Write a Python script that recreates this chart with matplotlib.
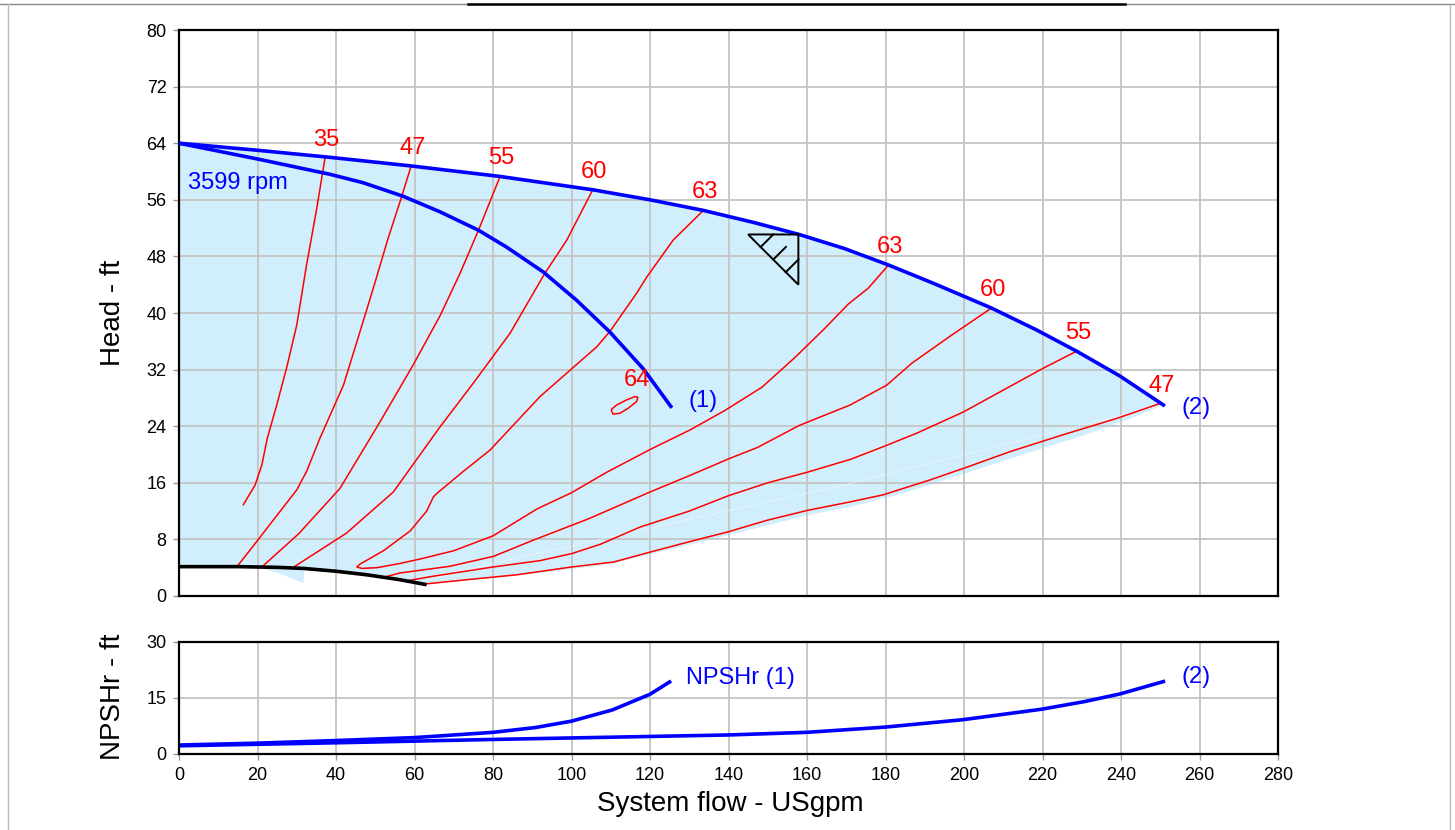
import matplotlib
matplotlib.use("Agg")
import matplotlib.pyplot as plt
from matplotlib import font_manager
from matplotlib.lines import Line2D

names = {f.name for f in font_manager.fontManager.ttflist}
NARROW = 'Liberation Sans Narrow' if 'Liberation Sans Narrow' in names else 'Liberation Sans'
plt.rcParams['font.family'] = ['Liberation Sans', 'DejaVu Sans']

# ---------------- data ----------------
# pump curves (head, ft) vs flow (USgpm)
curve1_x = [0, 20.6, 38.5, 47.0, 57.1, 66.5, 76.3, 83.5, 92.8, 101.3, 109.8, 118.3, 125.3]
curve1_y = [64, 61.7, 59.6, 58.4, 56.5, 54.3, 51.7, 49.3, 45.8, 41.8, 37.3, 32.1, 26.8]
curve2_x = [0, 20, 38.5, 58.9, 81.8, 105.6, 120, 133.6, 146.4, 158, 169.6, 180.7, 192.2,
            207, 218.5, 228.7, 239.7, 250.8]
curve2_y = [64, 63.0, 62.0, 60.8, 59.3, 57.4, 56.0, 54.5, 52.8, 51.1, 49.1, 46.8, 44.2,
            40.7, 37.6, 34.6, 31.1, 27.0]

# minimum (bottom) curve
min_x = [0, 15, 25, 31.7, 40, 47.8, 56.3, 63.1]
min_y = [4.15, 4.15, 4.05, 3.9, 3.5, 3.0, 2.3, 1.6]

# lower boundary of the shaded operating area
area_low_x = [0, 20.6, 26, 31.7, 32.0, 40, 47.8, 56.3, 63.1, 73.3, 86.1, 100, 110.7, 120, 140,
              160, 171, 185, 200.7, 215, 230, 242, 250.8]
area_low_y = [4.15, 4.0, 3.1, 1.8, 3.9, 3.5, 3.0, 2.3, 1.6, 2.2, 2.9, 3.8, 4.6, 5.9, 8.6,
              11.4, 12.6, 14.6, 17.4, 20.0, 22.6, 25.0, 27.0]

# faint white dotted line in the area
dot_x = [63, 80, 120, 171, 183.7, 250]
dot_y = [2.2, 4.6, 9.6, 15.9, 17.7, 26.9]

# efficiency contours (%)
eff35_x = [37.2, 35.1, 32.5, 30.0, 27.4, 24.9, 22.5, 21.1, 19.4, 16.4]
eff35_y = [61.9, 54.8, 46.8, 38.3, 32.2, 27.0, 22.3, 18.5, 15.7, 12.9]

eff47a_x = [59.1, 56.7, 53.3, 49.5, 45.3, 41.9, 35.9, 32.5, 30.0, 19.8, 14.7]
eff47a_y = [60.7, 56.4, 50.6, 43.5, 35.9, 29.8, 22.3, 17.6, 15.0, 7.7, 4.1]

eff55a_x = [81.8, 76.3, 71.6, 66.5, 59.7, 51.2, 41.0, 30.5, 21.1]
eff55a_y = [59.3, 51.7, 45.6, 39.6, 32.7, 24.6, 15.2, 8.8, 4.1]

eff60a_x = [105.4, 98.8, 93.2, 84.3, 75.0, 66.5, 54.6, 42.7, 28.7]
eff60a_y = [57.4, 50.3, 45.6, 37.1, 30.1, 23.9, 14.7, 8.9, 3.9]

eff63_x = [133.6, 125.9, 119.2, 116.6, 109.8, 106.4, 92.0, 79.2, 72.4, 65.7, 64.8, 63.1, 58.9,
           52.1, 46.1, 45.3, 46.6, 50.4, 56.3, 62.0, 70, 80, 91.2, 100, 109, 120, 130.3, 139,
           148.5, 156.9, 164.3, 170.6, 175.6, 180.8]
eff63_y = [54.5, 50.3, 45.1, 42.8, 37.4, 35.2, 28.2, 20.6, 17.6, 14.5, 14.0, 12.0, 9.2,
           6.4, 4.5, 4.1, 3.9, 4.0, 4.6, 5.3, 6.4, 8.5, 12.3, 14.6, 17.5, 20.7, 23.5, 26.2,
           29.5, 33.7, 37.7, 41.3, 43.5, 46.8]

eff60b_x = [52.5, 56.3, 69, 80.1, 90.3, 104.3, 120, 130, 140.1, 147.4, 158, 171.0, 180.3,
            186.7, 196.4, 207]
eff60b_y = [2.7, 3.25, 4.2, 5.6, 7.9, 10.9, 14.7, 17.0, 19.4, 21.0, 24.1, 27.0, 29.8,
            32.9, 36.7, 40.7]

eff55b_x = [57.6, 64.8, 80, 92, 100.1, 107.3, 117.5, 130, 140.1, 150, 160.1, 171, 179.4,
            187.9, 199.8, 210, 220.2, 228.7]
eff55b_y = [2.1, 2.8, 4.1, 5.0, 6.0, 7.3, 9.75, 12.0, 14.2, 16.0, 17.5, 19.3, 21.1,
            23.0, 26.0, 29.1, 32.2, 34.6]

eff47b_x = [62.7, 73.3, 86.1, 100, 110.7, 120, 130.2, 140.1, 149.8, 160.1, 171, 179.4, 191.3,
            200.7, 211.7, 225.3, 238.9, 249.9]
eff47b_y = [1.7, 2.3, 3.0, 4.1, 4.8, 6.2, 7.7, 9.1, 10.7, 12.1, 13.3, 14.3, 16.4,
            18.2, 20.4, 22.8, 25.1, 27.2]

eff64_x = [110.2, 110.6, 112.3, 114.4, 116.6, 116.9, 116.2, 114.0, 111.5, 110.2]
eff64_y = [26.19, 25.72, 25.82, 26.52, 27.48, 28.09, 28.19, 27.71, 27.0, 26.38]

contour_labels = ['35', '47', '55', '60', '63', '63', '60', '55', '47']

# NPSHr curves
npsh1_x = [0, 19.8, 39.9, 60.1, 80, 90.9, 100, 110.4, 120, 125]
npsh1_y = [2.4, 2.9, 3.6, 4.4, 5.8, 7.1, 8.8, 11.8, 16.0, 19.3]
npsh2_x = [0, 39.9, 80, 120, 140, 159.9, 179.9, 199.8, 219.8, 230.5, 239.8, 250.8]
npsh2_y = [2.2, 3.0, 3.9, 4.7, 5.1, 5.8, 7.2, 9.2, 12.0, 14.0, 16.1, 19.4]

# duty-point triangle marker (corners)
tri_x = [145.0, 157.8, 157.8]
tri_y = [51.1, 51.1, 44.0]

x_ticks = list(range(0, 281, 20))
head_ticks = list(range(0, 81, 8))
npsh_ticks = [0, 15, 30]

# ---------------- figure ----------------
W, H = 1455, 830
fig = plt.figure(figsize=(W / 100, H / 100), dpi=100)

BLUE = '#0000ff'
RED = '#ff0000'
FILL = '#d0eefc'
GRID = '#c4c4c4'

ax = fig.add_axes([179 / W, 1 - 596 / H, (1278 - 179) / W, (596 - 30) / H])
ax2 = fig.add_axes([179 / W, 1 - 754 / H, (1278 - 179) / W, (754 - 642) / H])

for a in (ax, ax2):
    a.set_xlim(0, 280)
    a.set_xticks(x_ticks)
    a.grid(True, color=GRID, linewidth=1.3)
    a.set_axisbelow(True)
    for s in a.spines.values():
        s.set_linewidth(1.6)
        s.set_color('black')
    a.tick_params(axis='both', colors='#999999', labelcolor='black', length=4, width=1,
                  labelsize=13, pad=5)

ax.set_ylim(0, 80)
ax.set_yticks(head_ticks)
ax.tick_params(axis='x', length=0, labelbottom=False)

ax2.set_ylim(0, 30)
ax2.set_yticks(npsh_ticks)

for a in (ax, ax2):
    for lab in a.get_xticklabels() + a.get_yticklabels():
        lab.set_family([NARROW, 'Liberation Sans'])

# shaded operating area
poly_x = list(curve2_x) + list(reversed(area_low_x))
poly_y = list(curve2_y) + list(reversed(area_low_y))
ax.fill(poly_x, poly_y, color=FILL, linewidth=0, zorder=0.2)
ax.plot(dot_x, dot_y, color='white', linewidth=0.6, linestyle=(0, (2, 2)), zorder=0.6)

# efficiency contours
contours = [(eff35_x, eff35_y), (eff47a_x, eff47a_y), (eff55a_x, eff55a_y),
            (eff60a_x, eff60a_y), (eff63_x, eff63_y), (eff60b_x, eff60b_y),
            (eff55b_x, eff55b_y), (eff47b_x, eff47b_y), (eff64_x, eff64_y)]
for cx, cy in contours:
    ax.plot(cx, cy, color=RED, linewidth=1.1, zorder=3)

# labels at the upper ends of contours
label_ends = [(eff35_x[0], eff35_y[0]), (eff47a_x[0], eff47a_y[0]), (eff55a_x[0], eff55a_y[0]),
              (eff60a_x[0], eff60a_y[0]), (eff63_x[0], eff63_y[0]), (eff63_x[-1], eff63_y[-1]),
              (eff60b_x[-1], eff60b_y[-1]), (eff55b_x[-1], eff55b_y[-1]), (eff47b_x[-1], eff47b_y[-1])]
for txt, (lx, ly) in zip(contour_labels, label_ends):
    ax.annotate(txt, (lx, ly), xytext=(1, 13), textcoords='offset points',
                ha='center', va='center', color=RED, fontsize=17, zorder=5)
ax.annotate('64', (max(eff64_x), max(eff64_y)), xytext=(-1, 12), textcoords='offset points',
            ha='center', va='center', color=RED, fontsize=17, zorder=5)

# minimum curve
ax.plot(min_x, min_y, color='black', linewidth=2.6, zorder=4, solid_capstyle='butt')

# pump curves
ax.plot(curve1_x, curve1_y, color=BLUE, linewidth=2.6, zorder=4, solid_joinstyle='round')
ax.plot(curve2_x, curve2_y, color=BLUE, linewidth=2.6, zorder=4, solid_joinstyle='round')
ax.annotate('(1)', (curve1_x[-1], curve1_y[-1]), xytext=(13, 4), textcoords='offset points',
            ha='left', va='center', color=BLUE, fontsize=17)
ax.annotate('(2)', (curve2_x[-1], curve2_y[-1]), xytext=(13, -2), textcoords='offset points',
            ha='left', va='center', color=BLUE, fontsize=17)
ax.text(2.3, 58.4, '3599 rpm', color=BLUE, fontsize=17, ha='left', va='center')

# duty point triangle with hatch ticks
ax.fill(tri_x, tri_y, facecolor='none', edgecolor='black', linewidth=1.4, zorder=5)
hx0, hy0 = tri_x[0], tri_y[0]
hx1, hy1 = tri_x[2], tri_y[2]
for t in (0.25, 0.5, 0.75):
    px = hx0 + t * (hx1 - hx0)
    py = hy0 + t * (hy1 - hy0)
    ax.plot([px, px + 3.23], [py, py + 1.79], color='black', linewidth=1.4, zorder=5)

# NPSH panel
ax2.plot(npsh1_x, npsh1_y, color=BLUE, linewidth=2.6, solid_joinstyle='round')
ax2.plot(npsh2_x, npsh2_y, color=BLUE, linewidth=2.6, solid_joinstyle='round')
ax2.annotate('NPSHr (1)', (npsh1_x[-1], npsh1_y[-1]), xytext=(12, 3), textcoords='offset points',
             ha='left', va='center', color=BLUE, fontsize=17)
ax2.annotate('(2)', (npsh2_x[-1], npsh2_y[-1]), xytext=(13, 3), textcoords='offset points',
             ha='left', va='center', color=BLUE, fontsize=17)

# axis titles
fig.text(113 / W, 1 - 313 / H, 'Head - ft', rotation=90, ha='center', va='center', fontsize=20)
fig.text(113 / W, 1 - 697 / H, 'NPSHr - ft', rotation=90, ha='center', va='center', fontsize=20)
fig.text(730 / W, 1 - 804 / H, 'System flow - USgpm', ha='center', va='center', fontsize=20)

# page frame remnants
fig.add_artist(Line2D([0, 1], [1 - 4 / H, 1 - 4 / H], color='#888888', linewidth=1))
fig.add_artist(Line2D([468 / W, 1125 / W], [1 - 4 / H, 1 - 4 / H], color='black', linewidth=1.8))
fig.add_artist(Line2D([8 / W, 8 / W], [0, 1 - 4 / H], color='#bbbbbb', linewidth=1))
fig.add_artist(Line2D([1450 / W, 1450 / W], [0, 1 - 4 / H], color='#bbbbbb', linewidth=1))

fig.savefig('out.png', dpi=100)
